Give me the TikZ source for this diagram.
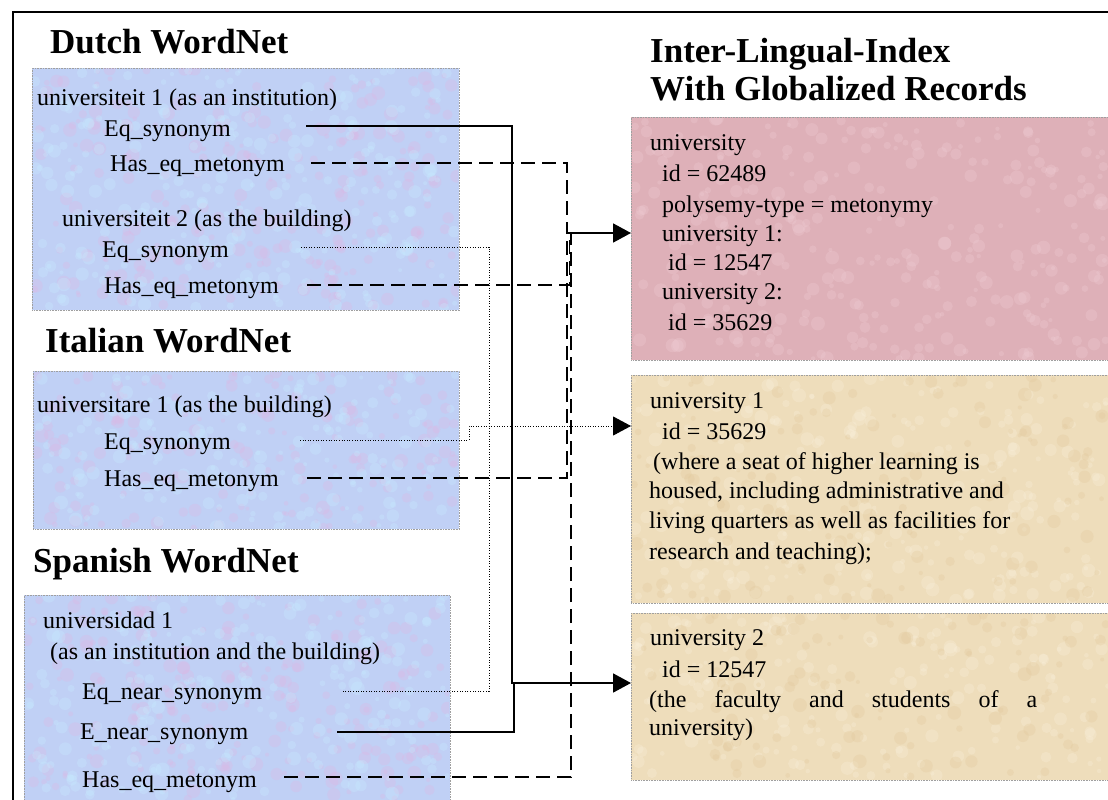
\documentclass[tikz,border=0pt]{standalone}
\usepackage{fontspec}
\setmainfont{Liberation Serif}
\usetikzlibrary{arrows.meta}
\definecolor{bluebg}{RGB}{192,208,245}
\definecolor{blueblob}{RGB}{222,182,228}
\definecolor{cyanblob}{RGB}{200,236,255}
\definecolor{pinkbg}{RGB}{222,176,184}
\definecolor{pinkblob}{RGB}{240,205,212}
\definecolor{tanbg}{RGB}{238,221,187}
\definecolor{tanblob}{RGB}{250,240,220}
\definecolor{tandark}{RGB}{225,200,155}
\tikzset{
 box/.style={draw=gray!75, densely dotted, line width=0.6pt, anchor=north west, inner sep=0pt, rectangle},
 title/.style={font=\fontsize{35}{40}\selectfont\bfseries, anchor=base west, inner sep=0pt},
 txt/.style={font=\fontsize{24}{30}\selectfont, anchor=base west, inner sep=0pt},
 solidc/.style={line width=1.8pt},
 dashc/.style={line width=1.6pt, dash pattern=on 14pt off 7pt},
 dotc/.style={line width=0.9pt, dash pattern=on 1pt off 1.6pt},
 tip/.style={-{Triangle[length=18pt,width=19pt]}},
 frameline/.style={line width=2.6pt},
}
\newcommand\mottle[6]{%
 \begin{scope}
 \clip (#1,#2) rectangle (#3,#4);
 \foreach \k in {1,...,#6}{
   \pgfmathsetmacro\mx{#1+rnd*(#3-#1)}
   \pgfmathsetmacro\my{#2+rnd*(#4-#2)}
   \pgfmathsetmacro\mr{2+rnd*5}
   \fill[#5, opacity=0.3] (\mx,\my) circle[radius=\mr pt];
 }
 \end{scope}}
\begin{document}
\begin{tikzpicture}[x=1pt,y=-1pt]
\useasboundingbox (0,0) rectangle (1108,800);
\clip (0,0) rectangle (1108,800);
\pgfmathsetseed{4711}
% frame
\draw[frameline] (13,802) -- (13,12) -- (1110,12);
% boxes
\node[box, fill=bluebg, minimum width=427pt, minimum height=242pt] (dutch) at (32,68) {};
\node[box, fill=bluebg, minimum width=426pt, minimum height=158pt] (italian) at (33,371) {};
\node[box, fill=bluebg, minimum width=426pt, minimum height=210pt] (spanish) at (24,595) {};
\node[box, fill=pinkbg, minimum width=479pt, minimum height=243pt] (pink) at (631,117) {};
\node[box, fill=tanbg, minimum width=479pt, minimum height=228pt] (tan1) at (631,375) {};
\node[box, fill=tanbg, minimum width=479pt, minimum height=167pt] (tan2) at (631,613) {};
% textures
\mottle{33}{69}{458}{309}{blueblob}{260}
\mottle{33}{69}{458}{309}{cyanblob}{260}
\mottle{34}{372}{458}{528}{blueblob}{170}
\mottle{34}{372}{458}{528}{cyanblob}{170}
\mottle{25}{596}{449}{800}{blueblob}{220}
\mottle{25}{596}{449}{800}{cyanblob}{220}
\mottle{632}{118}{1108}{359}{pinkblob}{300}
\mottle{632}{376}{1108}{602}{tanblob}{260}
\mottle{632}{376}{1108}{602}{tandark}{150}
\mottle{632}{614}{1108}{779}{tanblob}{200}
\mottle{632}{614}{1108}{779}{tandark}{110}
% titles
\node[title] (tdutch) at (50,53) {Dutch WordNet};
\node[title] (tital) at (45,352) {Italian WordNet};
\node[title] (tspan) at (33,572) {Spanish WordNet};
\node[title] (tili1) at (650,63) {Inter-Lingual-Index};
\node[title] (tili2) at (650,100) {With Globalized Records};
% Dutch texts
\node[txt] (du1) at (37,105) {universiteit 1 (as an institution)};
\node[txt] (du1eq) at (104,136) {Eq\_synonym};
\node[txt] (du1has) at (110,171) {Has\_eq\_metonym};
\node[txt] (du2) at (62,226) {universiteit 2 (as the building)};
\node[txt] (du2eq) at (102,257) {Eq\_synonym};
\node[txt] (du2has) at (104,293) {Has\_eq\_metonym};
% Italian texts
\node[txt] (it1) at (37,412) {universitare 1 (as the building)};
\node[txt] (iteq) at (104,449) {Eq\_synonym};
\node[txt] (ithas) at (104,486) {Has\_eq\_metonym};
% Spanish texts
\node[txt] (es1) at (43,628) {universidad 1};
\node[txt] (es1b) at (50,659) {(as an institution and the building)};
\node[txt] (eseq) at (82,699) {Eq\_near\_synonym};
\node[txt] (esen) at (80,739) {E\_near\_synonym};
\node[txt] (eshas) at (82,787) {Has\_eq\_metonym};
% pink record
\node[txt] (p1) at (650,150) {university};
\node[txt] (p2) at (662,181) {id = 62489};
\node[txt] (p3) at (662,212) {polysemy-type = metonymy};
\node[txt] (p4) at (662,241) {university 1:};
\node[txt] (p5) at (668,270) {id = 12547};
\node[txt] (p6) at (662,299) {university 2:};
\node[txt] (p7) at (668,330) {id = 35629};
% tan record 1
\node[txt] (t1) at (650,408) {university 1};
\node[txt] (t2) at (662,439) {id = 35629};
\node[txt] (t3) at (653,469) {(where a seat of higher learning is};
\node[txt] (t4) at (649,498) {housed, including administrative and};
\node[txt] (t5) at (649,528) {living quarters as well as facilities for};
\node[txt] (t6) at (649,559) {research and teaching);};
% tan record 2
\node[txt] (u1) at (650,645) {university 2};
\node[txt] (u2) at (662,677) {id = 12547};
\node[txt] (u3) at (649,707) {\makebox[388pt][s]{(the faculty and students of a}};
\node[txt] (u4) at (649,735) {university)};
% connector start points and junctions
\coordinate (du1eqS) at (306,126);
\coordinate (du1hasS) at (311,163);
\coordinate (du2eqS) at (301,247);
\coordinate (du2hasS) at (307,285);
\coordinate (iteqS) at (300,440);
\coordinate (ithasS) at (307,478);
\coordinate (eseqS) at (343,691);
\coordinate (esenS) at (337,732);
\coordinate (eshasS) at (284,777);
\coordinate (jpink) at (568,233);
\coordinate (jpinkA) at (567,233);
\coordinate (jpinkB) at (569.5,233);
\coordinate (jpinkC) at (571,233);
\coordinate (jtan1) at (469,426);
\coordinate (jtan2) at (512,683);
\coordinate (jtan2b) at (514,683);
\coordinate (jdot) at (489,691);
% dotted connectors
\draw[dotc] (du2eqS) -| (jdot) -- (eseqS);
\draw[dotc, tip] (iteqS) -| (jtan1) -- (jtan1 -| tan1.west);
% solid connectors
\draw[solidc, tip] (du1eqS) -| (jtan2) -- (jtan2 -| tan2.west);
\draw[solidc] (esenS) -| (jtan2b);
% dashed connectors
\draw[dashc] (du1hasS) -| (jpinkA);
\draw[dashc] (du2hasS) -| (jpinkB);
\draw[dashc] (ithasS) -| (jpinkA);
\draw[dashc] (eshasS) -| (jpinkC);
\draw[solidc, tip] (jpink) -- (jpink -| pink.west);
\end{tikzpicture}
\end{document}
